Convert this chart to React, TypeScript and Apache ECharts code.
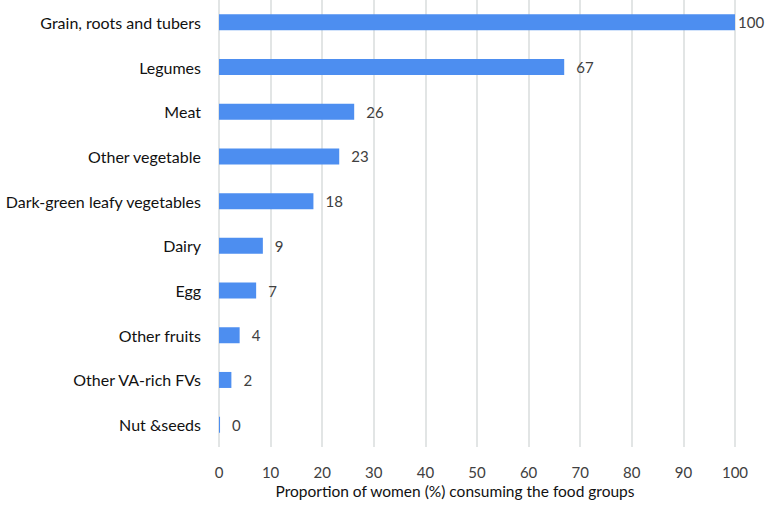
import React, { useEffect, useRef } from "react";
import * as echarts from "echarts";

const categories = [
  "Grain, roots and tubers",
  "Legumes",
  "Meat",
  "Other vegetable",
  "Dark-green leafy vegetables",
  "Dairy",
  "Egg",
  "Other fruits",
  "Other VA-rich FVs",
  "Nut &seeds",
];
const values = [100, 66.9, 26.2, 23.3, 18.3, 8.5, 7.2, 4.0, 2.4, 0.2];
const xTicks = [0, 10, 20, 30, 40, 50, 60, 70, 80, 90, 100];
const axisTitle = "Proportion of women (%) consuming the food groups";

export default function App() {
  const ref = useRef<HTMLDivElement>(null);
  useEffect(() => {
    const chart = echarts.init(ref.current!, null, { renderer: "svg" });
    const font = "Lato, 'Open Sans', sans-serif";
    chart.setOption({
      animation: false,
      grid: { left: 219, right: 30, top: 0, bottom: 63, containLabel: false },
      xAxis: {
        type: "value",
        min: xTicks[0],
        max: xTicks[xTicks.length - 1],
        interval: 10,
        axisLine: { show: false },
        axisTick: { show: false },
        splitLine: { show: true, lineStyle: { color: "#d9dcdc", width: 1.5 } },
        axisLabel: { color: "#404040", fontSize: 15, fontFamily: font, margin: 17 },
      },
      yAxis: {
        type: "category",
        data: categories,
        inverse: true,
        axisLine: { show: false },
        axisTick: { show: false },
        axisLabel: { color: "#111", fontSize: 16, fontFamily: font, margin: 18 },
      },
      graphic: [
        {
          type: "text",
          x: 455,
          y: 491,
          style: {
            text: axisTitle,
            fontSize: 15.5,
            fontFamily: font,
            fill: "#111",
            align: "center",
            verticalAlign: "middle",
          },
        },
      ],
      series: [
        {
          type: "bar",
          data: values.map((v, i) =>
            i === 0 ? { value: v, label: { distance: 3 } } : v
          ),
          barWidth: 16,
          itemStyle: { color: "#4d8ef0" },
          label: {
            show: true,
            position: "right",
            distance: 12,
            color: "#404040",
            fontSize: 15,
            fontFamily: font,
            formatter: (p: any) => String(Math.round(p.value)),
          },
        },
      ],
    });
    return () => chart.dispose();
  }, []);
  return <div ref={ref} style={{ width: 765, height: 510, position: "absolute", left: 0, top: 0 }} />;
}
